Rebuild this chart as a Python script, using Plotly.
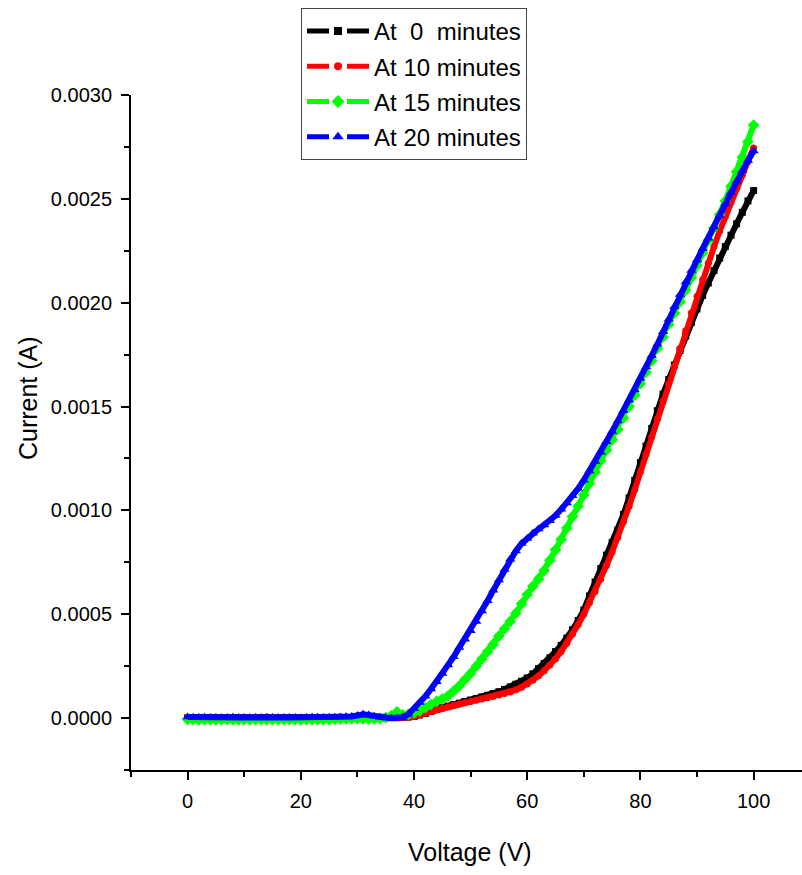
import plotly.graph_objects as go

# Applied voltage sweep (V), 1 V steps
voltage = list(range(0, 101))

# Measured current in microamperes for each exposure time
current_0min_uA = [
    1, 1, 2, 1, 1, 2, 1, 1, 1, 2, 1, 1, 2, 1, 1, 1, 2, 1, 1, 1,
    2, 1, 1, 1, 2, 1, 1, 2, 1, 2, 3, 4, 3, 2, 1, 1, 2, 2, 3, 5,
    8, 15, 22, 32, 42, 50, 58, 65, 72, 80,
    87, 94, 102, 110, 118, 127, 138, 150, 163, 177,
    193, 213, 238, 263, 290, 320, 350, 385, 425, 470,
    520, 588, 655, 720, 785, 845, 905, 980, 1060, 1145,
    1230, 1310, 1395, 1480, 1560, 1630, 1700, 1770, 1840, 1905,
    1970, 2035, 2095, 2155, 2215, 2270, 2325, 2380, 2435, 2490,
    2540,
]
current_10min_uA = [
    1, 1, 1, 2, 1, 1, 1, 2, 1, 1, 1, 1, 2, 1, 1, 1, 1, 2, 1, 1,
    1, 2, 1, 1, 1, 1, 2, 1, 1, 2, 2, 3, 2, 2, 1, 1, 1, 1, 2, 4,
    9, 16, 24, 32, 40, 48, 55, 62, 68, 74,
    80, 86, 92, 98, 104, 111, 118, 126, 136, 148,
    164, 182, 203, 228, 255, 285, 320, 360, 405, 450,
    500, 555, 610, 670, 735, 800, 870, 945, 1020, 1100,
    1185, 1270, 1355, 1440, 1525, 1610, 1695, 1780, 1865, 1950,
    2030, 2110, 2190, 2270, 2345, 2415, 2485, 2550, 2615, 2680,
    2745,
]
current_15min_uA = [
    -7, -8, -9, -8, -8, -9, -8, -7, -8, -9, -8, -8, -7, -8, -9, -8, -8, -7, -8, -8,
    -9, -8, -7, -8, -8, -7, -6, -5, -4, -3, -3, -4, -5, -4, -2, 2, 12, 30, 16, 18,
    25, 35, 50, 65, 80, 92, 106, 130, 155, 185,
    215, 250, 285, 320, 355, 395, 430, 465, 505, 550,
    595, 635, 670, 710, 760, 810, 860, 915, 970, 1020,
    1075, 1130, 1185, 1240, 1290, 1340, 1390, 1445, 1500, 1555,
    1610, 1665, 1720, 1780, 1835, 1895, 1950, 2005, 2060, 2120,
    2180, 2240, 2300, 2360, 2425, 2490, 2560, 2630, 2700, 2775,
    2855,
]
current_20min_uA = [
    5, 4, 3, 4, 3, 3, 2, 3, 4, 3, 3, 2, 3, 3, 4, 3, 2, 3, 3, 3,
    2, 3, 4, 4, 3, 3, 4, 5, 6, 8, 12, 18, 15, 9, 4, 2, 0, 0, 4, 18,
    45, 75, 105, 140, 175, 215, 255, 295, 340, 380,
    420, 465, 515, 565, 615, 665, 715, 765, 805, 840,
    865, 890, 910, 930, 950, 975, 1005, 1035, 1070, 1105,
    1145, 1190, 1235, 1280, 1330, 1380, 1430, 1480, 1530, 1580,
    1635, 1690, 1745, 1800, 1860, 1920, 1980, 2040, 2100, 2155,
    2205, 2260, 2310, 2365, 2420, 2475, 2530, 2585, 2635, 2685,
    2730,
]

series_names = ["At  0  minutes", "At 10 minutes", "At 15 minutes", "At 20 minutes"]
series_values = [current_0min_uA, current_10min_uA, current_15min_uA, current_20min_uA]
series_colors = ["#000000", "#ff0000", "#00ff00", "#0000ff"]
series_symbols = ["square", "circle", "diamond", "triangle-up"]
series_msize = [7, 7, 9, 9]
legend_msize = [8, 8, 10, 10]

FONT = "Liberation Sans, Arial, sans-serif"

fig = go.Figure()

for name, vals, col, sym, ms in zip(series_names, series_values, series_colors,
                                     series_symbols, series_msize):
    amps = [v * 1e-6 for v in vals]
    fig.add_trace(go.Scatter(
        x=voltage, y=amps, mode="lines+markers", name=name, showlegend=False,
        line=dict(color=col, width=6),
        marker=dict(color=col, symbol=sym, size=ms, line=dict(width=0)),
    ))

# Legend entries: dashed line with the series symbol sitting in the gap
for i, (name, col, sym, lms) in enumerate(zip(series_names, series_colors,
                                              series_symbols, legend_msize)):
    fig.add_trace(go.Scatter(
        x=[None], y=[None], mode="lines+markers", name=name,
        legendgroup=f"g{i}",
        line=dict(color=col, width=5, dash="22px,18px"),
        marker=dict(color=col, symbol=sym, size=lms, line=dict(width=0)),
    ))

axis_common = dict(
    showline=True, linecolor="black", linewidth=2,
    ticks="outside", ticklen=8, tickwidth=1.5, tickcolor="black",
    showgrid=False, zeroline=False, mirror=False,
    tickfont=dict(family=FONT, size=20, color="black"),
)

fig.update_xaxes(
    range=[-10, 108.55], tick0=0, dtick=20,
    minor=dict(ticks="outside", ticklen=5, tickwidth=1.5, tickcolor="black", dtick=10, tick0=0),
    ticklabelstandoff=4,
    **axis_common,
)
fig.update_yaxes(
    range=[-0.00025, 0.003], tick0=0, dtick=0.0005, tickformat=".4f",
    minor=dict(ticks="outside", ticklen=5, tickwidth=1.5, tickcolor="black", dtick=0.00025, tick0=0),
    ticklabelstandoff=5,
    **axis_common,
)

fig.update_layout(
    width=802, height=875,
    margin=dict(l=131, r=0, t=95, b=105),
    paper_bgcolor="white", plot_bgcolor="white",
    showlegend=True,
    legend=dict(
        x=0.2534, y=1.129, xanchor="left", yanchor="top",
        bgcolor="white", bordercolor="#444444", borderwidth=1,
        font=dict(family=FONT, size=24, color="black"),
        itemwidth=62, tracegroupgap=1,
    ),
    annotations=[
        dict(text="Voltage (V)", xref="paper", yref="paper", x=0.505, y=-0.1215,
             showarrow=False, xanchor="center", yanchor="middle",
             font=dict(family=FONT, size=25, color="black")),
        dict(text="Current (A)", xref="paper", yref="paper", x=-0.1535, y=0.551,
             showarrow=False, xanchor="center", yanchor="middle", textangle=-90,
             font=dict(family=FONT, size=25, color="black")),
    ],
)

fig.write_html("out.html")
